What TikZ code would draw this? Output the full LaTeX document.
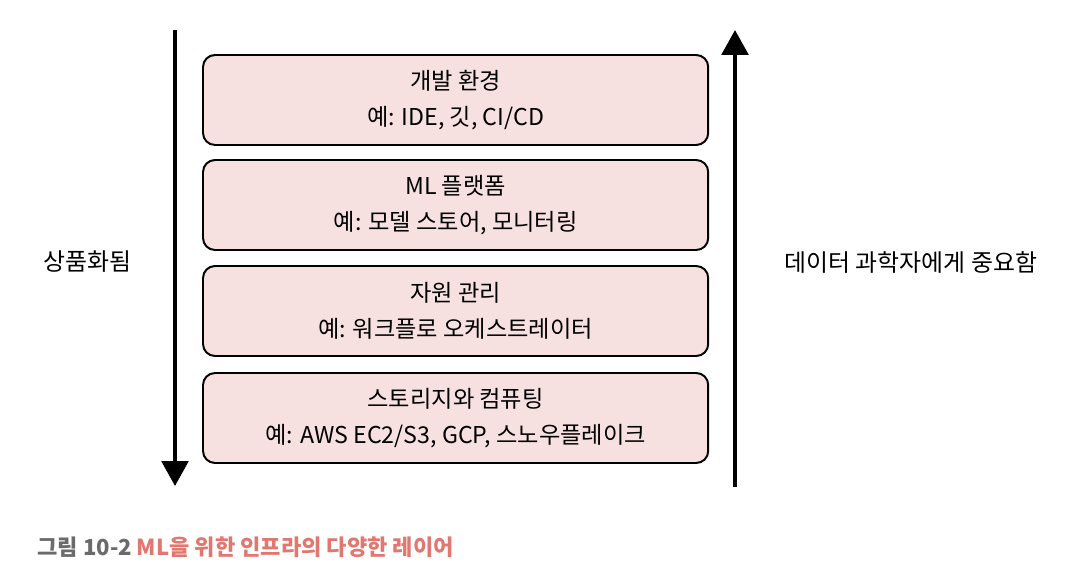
\documentclass[tikz,border=0pt]{standalone}
\usepackage{fontspec}
\setmainfont{Noto Sans CJK KR}
\usetikzlibrary{arrows.meta}
\definecolor{layerpink}{HTML}{F7E1E0}
\definecolor{capred}{HTML}{E07870}
\definecolor{capgray}{HTML}{6A6A6A}
\begin{document}
\begin{tikzpicture}[x=1cm, y=1cm,
    layer/.style={draw, line width=1.4pt, fill=layerpink, rounded corners=0.3cm,
      minimum width=12.63cm, minimum height=2.25cm, align=center,
      font=\fontsize{16.5}{26}\selectfont},
    side/.style={font=\fontsize{17}{20}\selectfont},
    bigarrow/.style={line width=2.8pt, -{Triangle[length=0.62cm, width=0.66cm]}}]
  \useasboundingbox (0,0) rectangle (26.8,14.4);
  % the four layers, top to bottom
  \node[layer] (dev)   at (11.39,11.9)  {개발 환경\\예: IDE, 깃, CI/CD};
  \node[layer] (plat)  at (11.39,9.275) {ML 플랫폼\\예: 모델 스토어, 모니터링};
  \node[layer] (res)   at (11.39,6.625) {자원 관리\\예: 워크플로 오케스트레이터};
  \node[layer] (store) at (11.39,3.95)  {스토리지와 컴퓨팅\\예: AWS EC2/S3, GCP, 스노우플레이크};
  % side arrows
  \coordinate (ltop) at (4.375,13.65);
  \coordinate (lbot) at (4.375,2.25);
  \coordinate (rbot) at (18.375,2.225);
  \coordinate (rtop) at (18.375,13.65);
  \draw[bigarrow] (ltop) -- (lbot);
  \draw[bigarrow] (rbot) -- (rtop);
  \node[side] (prod) at (2.18,7.85) {상품화됨};
  \node[side] (sci)  at (22.77,7.85) {데이터 과학자에게 중요함};
  % caption
  \node[anchor=west, inner sep=0pt, font=\fontsize{15.7}{19}\selectfont\bfseries] (cap) at (0.93,0.72)
    {\textcolor{capgray}{그림 10-2} \textcolor{capred}{ML을 위한 인프라의 다양한 레이어}};
\end{tikzpicture}
\end{document}
